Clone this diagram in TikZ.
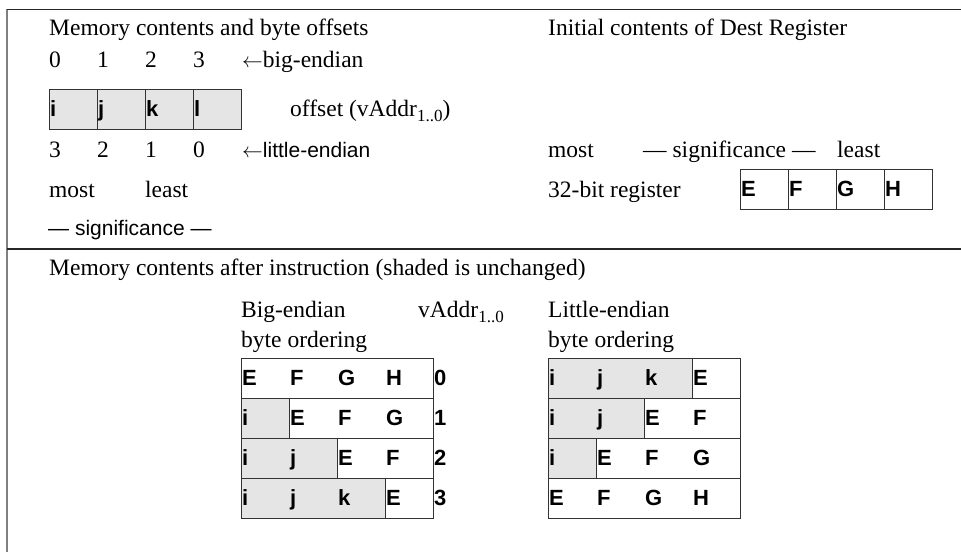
\documentclass[tikz,border=0pt]{standalone}
\usepackage{fontspec}
\setmainfont{Liberation Serif}
\setsansfont{Liberation Sans}
\usetikzlibrary{positioning}
\newcommand\larrow{{\fontsize{21}{25}\selectfont$\leftarrow$}}
\newcommand\addrsub{\raisebox{-5pt}{\fontsize{17}{20}\selectfont 1..0}}

\begin{document}
\begin{tikzpicture}[x=1pt,y=-1pt,
  txt/.style={anchor=base west,inner sep=0pt,font=\fontsize{23.5}{28}\selectfont},
  stxt/.style={txt,font=\fontsize{21}{25}\selectfont\sffamily},
  byte/.style={txt,font=\fontsize{22}{26}\selectfont\sffamily\bfseries},
  rule/.style={line width=1.2pt,black!85},
  cellline/.style={line width=1pt,black!80},
  unchanged/.style={fill=black!10}
]
\def\cw{48}
\def\ch{40}
\useasboundingbox (0,0) rectangle (961,552);

% Frame
\draw[line width=2pt,black!50] (7,9) -- (7,552);
\draw[rule] (7,9.5) -- (961,9.5);
\draw[rule] (7,249) -- (961,249);

% Memory contents and byte offsets
\node[txt] (memtitle) at (49,35) {Memory contents and byte offsets};
\foreach \k/\b/\l/\v in {0/0/3/i,1/1/2/j,2/2/1/k,3/3/0/l}{
  \node[txt] (be\k) at ({49+\k*\cw},67) {\b};
  \draw[cellline,unchanged] ({49+\k*\cw},89) rectangle +(\cw,\ch);
  \node[byte] (src\k) at ({50+\k*\cw},116) {\v};
  \node[txt] (le\k) at ({49+\k*\cw},157) {\l};
}
\node[txt] (bigend) at (242,67) {\larrow big-endian};
\node[txt] (offset) at (290,116) {offset (vAddr\addrsub)};
\node[txt] (litend) at (242,157) {\larrow{\fontsize{21}{25}\selectfont\sffamily little-endian}};
\node[txt] (most) at (49,197) {most};
\node[txt] (least) at (145,197) {least};
\node[stxt] (signif) at (48,235) {— significance —};

% Initial contents of Dest Register
\node[txt] (regtitle) at (548,35) {Initial contents of Dest Register};
\node[txt] (rmost) at (548,157) {most};
\node[txt] (rsignif) at (643,157) {— significance —};
\node[txt] (rleast) at (837,157) {least};
\node[txt] (reglbl) at (548,197) {32-bit register};
\foreach \k/\v in {0/E,1/F,2/G,3/H}{
  \draw[cellline] ({740+\k*\cw},169) rectangle +(\cw,\ch);
  \node[byte] (reg\k) at ({741+\k*\cw},196) {\v};
}

% Memory contents after instruction
\node[txt] (aftertitle) at (49,275) {Memory contents after instruction (shaded is unchanged)};
\node[txt] (bigtitle) at (241,317) {Big-endian};
\node[txt] (bigorder) at ([yshift=-30pt]bigtitle.base west) {byte ordering};
\node[txt] (vaddr) at (418,317) {vAddr\addrsub};
\node[txt] (littitle) at (548,317) {Little-endian};
\node[txt] (litorder) at ([yshift=-30pt]littitle.base west) {byte ordering};

% Big-endian rows
\foreach \r/\a/\b/\c/\d in {0/E/F/G/H,1/i/E/F/G,2/i/j/E/F,3/i/j/k/E}{
  \fill[unchanged] (241,{358+\r*\ch}) rectangle +({\r*\cw},\ch);
  \draw[cellline] (241,{358+\r*\ch}) rectangle +({4*\cw},\ch);
  \ifnum\r>0 \draw[cellline] ({241+\r*\cw},{358+\r*\ch}) -- +(0,\ch); \fi
  \foreach \k/\v in {0/\a,1/\b,2/\c,3/\d}{
    \node[byte] (big\r\k) at ({242+\k*\cw},{385+\r*\ch}) {\v};
  }
  \node[byte] (addr\r) at (434,{385+\r*\ch}) {\r};
}

% Little-endian rows
\foreach \r/\s/\a/\b/\c/\d in {0/3/i/j/k/E,1/2/i/j/E/F,2/1/i/E/F/G,3/0/E/F/G/H}{
  \fill[unchanged] (548,{358+\r*\ch}) rectangle +({\s*\cw},\ch);
  \draw[cellline] (548,{358+\r*\ch}) rectangle +({4*\cw},\ch);
  \ifnum\s>0 \draw[cellline] ({548+\s*\cw},{358+\r*\ch}) -- +(0,\ch); \fi
  \foreach \k/\v in {0/\a,1/\b,2/\c,3/\d}{
    \node[byte] (little\r\k) at ({549+\k*\cw},{385+\r*\ch}) {\v};
  }
}
\end{tikzpicture}
\end{document}
